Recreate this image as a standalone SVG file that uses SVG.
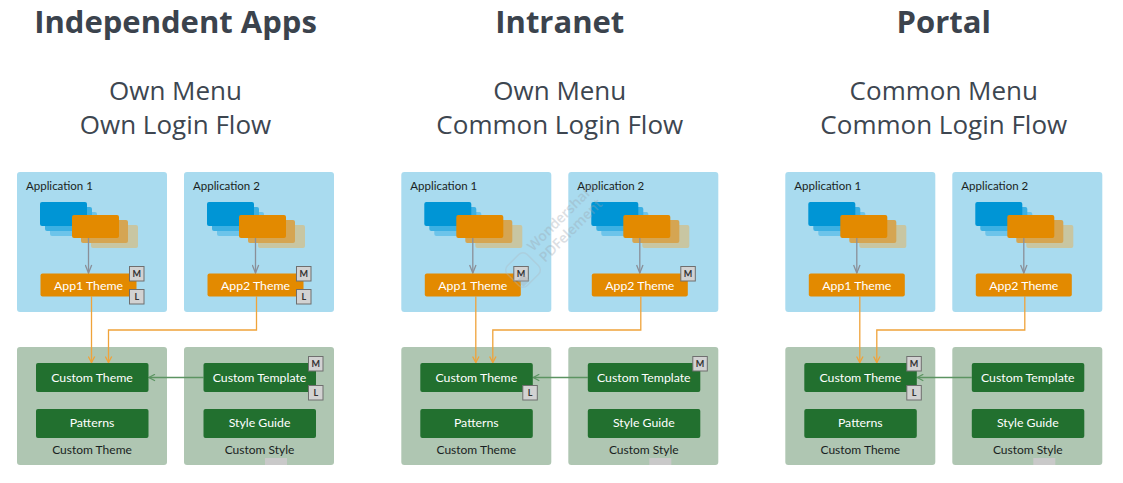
<svg xmlns="http://www.w3.org/2000/svg" width="1123" height="483" viewBox="0 0 1123 483">
<defs>
<style>
.title{font-family:"Open Sans","Noto Sans",sans-serif;font-weight:700;font-size:31px;fill:#3b434d;text-anchor:middle}
.sub{font-family:"Open Sans","Noto Sans",sans-serif;font-size:26px;fill:#3d4650;text-anchor:middle}
.appbox{fill:#a9dbef}
.stylebox{fill:#afc6b2}
.lbl{font-family:"Lato","Noto Sans",sans-serif;font-size:11.5px;fill:#1a1f22}
.lbl2{font-family:"Lato","Noto Sans",sans-serif;font-size:12px;fill:#1a1f22;text-anchor:middle}
.btn{fill:#22702f}
.btntxt{font-family:"Lato","Noto Sans",sans-serif;font-size:12.3px;fill:#ffffff;text-anchor:middle}
.theme{fill:#e38a00}
.b1{fill:#0095d5}.b2{fill:#3cb0e3}.b3{fill:#6dc4ea}
.o1{fill:#e38a00}.o2{fill:#d5a552}.o3{fill:#c8c6a2}
.badge{fill:#d2d2d2;stroke:#6f6f6f;stroke-width:1}
.badgetxt{font-family:"Lato","Noto Sans",sans-serif;font-size:9px;font-weight:700;fill:#333;text-anchor:middle}
.gline{stroke:#8a8f98;stroke-width:1.3;fill:none}
.oline{stroke:#efa33a;stroke-width:1.3;fill:none}
.grline{stroke:#5c9462;stroke-width:1.3;fill:none}
.wm{font-family:"Open Sans","Noto Sans",sans-serif;font-size:14px;font-weight:600;fill:#9aa4ad}
</style>
<marker id="ag" viewBox="0 0 10 8" refX="9" refY="4" markerWidth="10" markerHeight="8" markerUnits="userSpaceOnUse" orient="auto"><path d="M1,0.8 L9,4 L1,7.2" fill="none" stroke="#8a8f98" stroke-width="1.3"/></marker>
<marker id="ao" viewBox="0 0 8 8" refX="7" refY="4" markerWidth="8" markerHeight="8" markerUnits="userSpaceOnUse" orient="auto"><path d="M1,0.8 L7,4 L1,7.2" fill="none" stroke="#efa33a" stroke-width="1.3"/></marker>
<marker id="agr" viewBox="0 0 8 8" refX="7" refY="4" markerWidth="8" markerHeight="8" markerUnits="userSpaceOnUse" orient="auto"><path d="M1,0.8 L7,4 L1,7.2" fill="none" stroke="#5c9462" stroke-width="1.3"/></marker>
<g id="stackT">
<rect class="b3" x="50" y="212" width="47" height="24" rx="2"/>
<rect class="b2" x="45" y="207" width="47" height="24" rx="2"/>
<rect class="b1" x="40" y="202" width="47" height="24" rx="2"/>
<rect class="o3" x="91" y="225" width="47" height="23" rx="2"/>
<rect class="o2" x="81" y="220" width="47" height="23" rx="2"/>
<rect class="o1" x="72" y="215" width="47" height="23" rx="2"/>
</g>
</defs>
<rect width="1123" height="483" fill="#ffffff"/>

<!-- Panel 1 -->
<g id="panel1">
<text class="title" x="175.5" y="33">Independent Apps</text>
<text class="sub" x="175.5" y="100">Own Menu</text>
<text class="sub" x="175.5" y="134">Own Login Flow</text>
<g id="p1-app1"><rect class="appbox" x="17" y="172" width="150" height="140" rx="3"/><text class="lbl" x="26" y="190">Application 1</text><use href="#stackT"/></g>
<g id="p1-app2"><rect class="appbox" x="184" y="172" width="150" height="140" rx="3"/><text class="lbl" x="193" y="190">Application 2</text><use href="#stackT" x="167"/></g>
<g id="p1-customtheme-box"><rect class="stylebox" x="17" y="347" width="150" height="118" rx="3"/><text class="lbl2" x="92" y="454">Custom Theme</text></g>
<g id="p1-customstyle-box"><rect class="stylebox" x="184" y="347" width="150" height="118" rx="3"/><text class="lbl2" x="259.5" y="454">Custom Style</text><rect x="265" y="458" width="22" height="7" fill="#c9c9c9"/></g>
<g id="p1-connectors">
<path class="gline" d="M88.5,238 V273" marker-end="url(#ag)"/>
<path class="gline" d="M255.5,238 V273" marker-end="url(#ag)"/>
<path class="oline" d="M91.5,296.5 V362.5" marker-end="url(#ao)"/>
<path class="oline" d="M256.5,296.5 V330 H108.5 V362.5" marker-end="url(#ao)"/>
<path class="grline" d="M203.5,377.5 H149" marker-end="url(#agr)"/>
</g>
<g id="p1-app1theme"><rect class="theme" x="40.5" y="273.5" width="96" height="23" rx="2"/><text class="btntxt" x="88.5" y="289.5">App1 Theme</text><rect class="badge" x="129.5" y="266.5" width="14.5" height="14.5"/><text class="badgetxt" x="136.75" y="277">M</text><rect class="badge" x="129.5" y="289.5" width="14.5" height="14.5"/><text class="badgetxt" x="136.75" y="300">L</text></g>
<g id="p1-app2theme"><rect class="theme" x="207.5" y="273.5" width="96" height="23" rx="2"/><text class="btntxt" x="255.5" y="289.5">App2 Theme</text><rect class="badge" x="296.5" y="266.5" width="14.5" height="14.5"/><text class="badgetxt" x="303.75" y="277">M</text><rect class="badge" x="296.5" y="289.5" width="14.5" height="14.5"/><text class="badgetxt" x="303.75" y="300">L</text></g>
<g id="p1-customtheme"><rect class="btn" x="36" y="363" width="112.5" height="29" rx="2"/><text class="btntxt" x="92" y="382">Custom Theme</text></g>
<g id="p1-patterns"><rect class="btn" x="36" y="409" width="112.5" height="29" rx="2"/><text class="btntxt" x="92" y="427">Patterns</text></g>
<g id="p1-customtemplate"><rect class="btn" x="203.5" y="363" width="112.5" height="29" rx="2"/><text class="btntxt" x="259.5" y="382">Custom Template</text><rect class="badge" x="308.5" y="356.5" width="14.5" height="14.5"/><text class="badgetxt" x="315.75" y="367">M</text><rect class="badge" x="308.5" y="385.5" width="14.5" height="14.5"/><text class="badgetxt" x="315.75" y="396">L</text></g>
<g id="p1-styleguide"><rect class="btn" x="203.5" y="409" width="112.5" height="29" rx="2"/><text class="btntxt" x="259.5" y="427">Style Guide</text></g>
</g>

<!-- Panel 2 -->
<g id="panel2" transform="translate(384.3,0)">
<text class="title" x="175.5" y="33">Intranet</text>
<text class="sub" x="175.5" y="100">Own Menu</text>
<text class="sub" x="175.5" y="134">Common Login Flow</text>
<g id="p2-app1"><rect class="appbox" x="17" y="172" width="150" height="140" rx="3"/><text class="lbl" x="26" y="190">Application 1</text><use href="#stackT"/></g>
<g id="p2-app2"><rect class="appbox" x="184" y="172" width="150" height="140" rx="3"/><text class="lbl" x="193" y="190">Application 2</text><use href="#stackT" x="167"/></g>
<g id="p2-customtheme-box"><rect class="stylebox" x="17" y="347" width="150" height="118" rx="3"/><text class="lbl2" x="92" y="454">Custom Theme</text></g>
<g id="p2-customstyle-box"><rect class="stylebox" x="184" y="347" width="150" height="118" rx="3"/><text class="lbl2" x="259.5" y="454">Custom Style</text><rect x="265" y="458" width="22" height="7" fill="#c9c9c9"/></g>
<g id="p2-connectors">
<path class="gline" d="M88.5,238 V273" marker-end="url(#ag)"/>
<path class="gline" d="M255.5,238 V273" marker-end="url(#ag)"/>
<path class="oline" d="M91.5,296.5 V362.5" marker-end="url(#ao)"/>
<path class="oline" d="M256.5,296.5 V330 H108.5 V362.5" marker-end="url(#ao)"/>
<path class="grline" d="M203.5,377.5 H149" marker-end="url(#agr)"/>
</g>
<g id="p2-app1theme"><rect class="theme" x="40.5" y="273.5" width="96" height="23" rx="2"/><text class="btntxt" x="88.5" y="289.5">App1 Theme</text><rect class="badge" x="129.5" y="266.5" width="14.5" height="14.5"/><text class="badgetxt" x="136.75" y="277">M</text></g>
<g id="p2-app2theme"><rect class="theme" x="207.5" y="273.5" width="96" height="23" rx="2"/><text class="btntxt" x="255.5" y="289.5">App2 Theme</text><rect class="badge" x="296.5" y="266.5" width="14.5" height="14.5"/><text class="badgetxt" x="303.75" y="277">M</text></g>
<g id="p2-customtheme"><rect class="btn" x="36" y="363" width="112.5" height="29" rx="2"/><text class="btntxt" x="92" y="382">Custom Theme</text><rect class="badge" x="138.5" y="385.5" width="14.5" height="14.5"/><text class="badgetxt" x="145.75" y="396">L</text></g>
<g id="p2-patterns"><rect class="btn" x="36" y="409" width="112.5" height="29" rx="2"/><text class="btntxt" x="92" y="427">Patterns</text></g>
<g id="p2-customtemplate"><rect class="btn" x="203.5" y="363" width="112.5" height="29" rx="2"/><text class="btntxt" x="259.5" y="382">Custom Template</text><rect class="badge" x="308.5" y="356.5" width="14.5" height="14.5"/><text class="badgetxt" x="315.75" y="367">M</text></g>
<g id="p2-styleguide"><rect class="btn" x="203.5" y="409" width="112.5" height="29" rx="2"/><text class="btntxt" x="259.5" y="427">Style Guide</text></g>
</g>

<!-- Panel 3 -->
<g id="panel3" transform="translate(768.3,0)">
<text class="title" x="175.5" y="33">Portal</text>
<text class="sub" x="175.5" y="100">Common Menu</text>
<text class="sub" x="175.5" y="134">Common Login Flow</text>
<g id="p3-app1"><rect class="appbox" x="17" y="172" width="150" height="140" rx="3"/><text class="lbl" x="26" y="190">Application 1</text><use href="#stackT"/></g>
<g id="p3-app2"><rect class="appbox" x="184" y="172" width="150" height="140" rx="3"/><text class="lbl" x="193" y="190">Application 2</text><use href="#stackT" x="167"/></g>
<g id="p3-customtheme-box"><rect class="stylebox" x="17" y="347" width="150" height="118" rx="3"/><text class="lbl2" x="92" y="454">Custom Theme</text></g>
<g id="p3-customstyle-box"><rect class="stylebox" x="184" y="347" width="150" height="118" rx="3"/><text class="lbl2" x="259.5" y="454">Custom Style</text><rect x="265" y="458" width="22" height="7" fill="#c9c9c9"/></g>
<g id="p3-connectors">
<path class="gline" d="M88.5,238 V273" marker-end="url(#ag)"/>
<path class="gline" d="M255.5,238 V273" marker-end="url(#ag)"/>
<path class="oline" d="M91.5,296.5 V362.5" marker-end="url(#ao)"/>
<path class="oline" d="M256.5,296.5 V330 H108.5 V362.5" marker-end="url(#ao)"/>
<path class="grline" d="M203.5,377.5 H149" marker-end="url(#agr)"/>
</g>
<g id="p3-app1theme"><rect class="theme" x="40.5" y="273.5" width="96" height="23" rx="2"/><text class="btntxt" x="88.5" y="289.5">App1 Theme</text></g>
<g id="p3-app2theme"><rect class="theme" x="207.5" y="273.5" width="96" height="23" rx="2"/><text class="btntxt" x="255.5" y="289.5">App2 Theme</text></g>
<g id="p3-customtheme"><rect class="btn" x="36" y="363" width="112.5" height="29" rx="2"/><text class="btntxt" x="92" y="382">Custom Theme</text><rect class="badge" x="138.5" y="356.5" width="14.5" height="14.5"/><text class="badgetxt" x="145.75" y="367">M</text><rect class="badge" x="138.5" y="385.5" width="14.5" height="14.5"/><text class="badgetxt" x="145.75" y="396">L</text></g>
<g id="p3-patterns"><rect class="btn" x="36" y="409" width="112.5" height="29" rx="2"/><text class="btntxt" x="92" y="427">Patterns</text></g>
<g id="p3-customtemplate"><rect class="btn" x="203.5" y="363" width="112.5" height="29" rx="2"/><text class="btntxt" x="259.5" y="382">Custom Template</text></g>
<g id="p3-styleguide"><rect class="btn" x="203.5" y="409" width="112.5" height="29" rx="2"/><text class="btntxt" x="259.5" y="427">Style Guide</text></g>
</g>

<!-- Watermark -->
<g id="watermark" opacity="0.35">
<rect x="509" y="256" width="28" height="28" rx="6" transform="rotate(45 523 270)" fill="none" stroke="#b0b9c1" stroke-width="1.5"/>
<rect x="519" y="276" width="9" height="9" transform="rotate(45 523.5 280.5)" fill="#a4adb5"/>
<text class="wm" transform="translate(533,252) rotate(-45)">Wondershare</text>
<text class="wm" transform="translate(545,263) rotate(-45)">PDFelement</text>
</g>
</svg>
